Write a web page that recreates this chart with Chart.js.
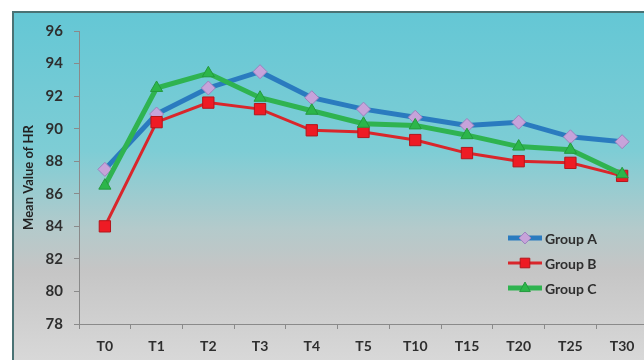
<!DOCTYPE html>
<html>
<head>
<meta charset="utf-8">
<script src="https://cdn.jsdelivr.net/npm/chart.js@4/dist/chart.umd.min.js"></script>
<style>
  html, body { margin: 0; padding: 0; overflow: hidden; background: #ffffff; }
  #wrap { position: relative; width: 660px; height: 360px; }
</style>
</head>
<body>
<div id="wrap"><canvas id="c" width="660" height="360"></canvas></div>
<script>
const categories = ['T0', 'T1', 'T2', 'T3', 'T4', 'T5', 'T10', 'T15', 'T20', 'T25', 'T30'];
const groupA = [87.5, 90.9, 92.5, 93.5, 91.9, 91.2, 90.7, 90.2, 90.4, 89.5, 89.2];
const groupB = [84.0, 90.4, 91.6, 91.2, 89.9, 89.8, 89.3, 88.5, 88.0, 87.9, 87.1];
const groupC = [86.5, 92.5, 93.4, 91.9, 91.1, 90.3, 90.2, 89.6, 88.9, 88.7, 87.2];
const seriesNames = ['Group A', 'Group B', 'Group C'];
const yMin = 78, yMax = 96, yStep = 2;
const yTitle = 'Mean Value of HR';

const FONT = 'Lato, "Open Sans", sans-serif';

const bgPlugin = {
  id: 'bgPlugin',
  beforeDraw(chart) {
    const ctx = chart.ctx;
    const W = chart.width, H = chart.height;
    ctx.save();
    ctx.fillStyle = '#ffffff';
    ctx.fillRect(0, 0, W, H);
    const g = ctx.createLinearGradient(0, 12, 0, H);
    g.addColorStop(0.0, '#64c7d5');
    g.addColorStop(0.40, '#7ecdd5');
    g.addColorStop(0.62, '#b3cacb');
    g.addColorStop(0.74, '#c5c5c5');
    g.addColorStop(1.0, '#d8d8d8');
    ctx.fillStyle = g;
    ctx.fillRect(13, 12, W - 13, H - 12);
    ctx.strokeStyle = '#4a7274';
    ctx.lineWidth = 2;
    ctx.beginPath();
    ctx.moveTo(13, H + 2);
    ctx.lineTo(13, 12);
    ctx.lineTo(W + 2, 12);
    ctx.stroke();
    ctx.restore();
  }
};

function drawMarker(ctx, style, x, y, r) {
  if (style === 'rectRot') {
    ctx.moveTo(x, y - r); ctx.lineTo(x + r, y); ctx.lineTo(x, y + r); ctx.lineTo(x - r, y); ctx.closePath();
  } else if (style === 'rect') {
    const s = r * Math.SQRT1_2;
    ctx.rect(x - s, y - s, 2 * s, 2 * s);
  } else {
    ctx.moveTo(x, y - r); ctx.lineTo(x + r * 0.9, y + r * 0.6); ctx.lineTo(x - r * 0.9, y + r * 0.6); ctx.closePath();
  }
}

const legendPlugin = {
  id: 'insideLegend',
  afterDatasetsDraw(chart) {
    const ctx = chart.ctx;
    ctx.save();
    chart.data.datasets.forEach((ds, i) => {
      const y = 238 + i * 25;
      ctx.strokeStyle = ds.borderColor;
      ctx.lineWidth = ds.borderWidth;
      ctx.beginPath();
      ctx.moveTo(508, y);
      ctx.lineTo(542, y);
      ctx.stroke();
      ctx.fillStyle = ds.pointBackgroundColor;
      ctx.strokeStyle = ds.pointBorderColor;
      ctx.lineWidth = 1;
      ctx.beginPath();
      drawMarker(ctx, ds.pointStyle, 525, y, ds.pointRadius * 0.85);
      ctx.fill();
      ctx.stroke();
      ctx.fillStyle = '#2e2e2e';
      ctx.font = 'bold 14px ' + FONT;
      ctx.textAlign = 'left';
      ctx.textBaseline = 'middle';
      ctx.fillText(ds.label, 545, y + 1);
    });
    ctx.restore();
  }
};

new Chart(document.getElementById('c'), {
  type: 'line',
  data: {
    labels: categories,
    datasets: [
      {
        label: seriesNames[0], data: groupA, order: 3,
        borderColor: '#2a7bbf', borderWidth: 5,
        pointStyle: 'rectRot', pointRadius: 7, pointHoverRadius: 7,
        pointBackgroundColor: '#c7a3da', pointBorderColor: '#9b82bd', pointBorderWidth: 1,
        tension: 0
      },
      {
        label: seriesNames[1], data: groupB, order: 2,
        borderColor: '#d9262b', borderWidth: 3,
        pointStyle: 'rect', pointRadius: 8, pointHoverRadius: 8,
        pointBackgroundColor: '#ee1b24', pointBorderColor: '#b3161c', pointBorderWidth: 1,
        tension: 0
      },
      {
        label: seriesNames[2], data: groupC, order: 1,
        borderColor: '#2fb350', borderWidth: 5,
        pointStyle: 'triangle', pointRadius: 7, pointHoverRadius: 7,
        pointBackgroundColor: '#2cb64a', pointBorderColor: '#249a3e', pointBorderWidth: 1,
        tension: 0
      }
    ]
  },
  options: {
    responsive: false,
    animation: false,
    devicePixelRatio: 1,
    layout: { padding: { left: 13, top: 31, right: 12, bottom: 0 } },
    plugins: { legend: { display: false }, tooltip: { enabled: false } },
    scales: {
      x: {
        offset: true,
        grid: { display: true, drawOnChartArea: false, offset: true, tickLength: 5, color: '#8a8a8a', lineWidth: 1 },
        border: { display: true, color: '#8a8a8a', width: 1 },
        ticks: { color: '#2e2e2e', font: { family: FONT, size: 14, weight: 'bold' }, padding: 9, maxRotation: 0 },
        afterFit(scale) { scale.height = 36; }
      },
      y: {
        min: yMin, max: yMax,
        grid: { display: true, drawOnChartArea: false, tickLength: 5, color: '#8a8a8a' },
        border: { display: true, color: '#8a8a8a', width: 1 },
        ticks: { stepSize: yStep, color: '#2e2e2e', font: { family: FONT, size: 15, weight: 'bold' }, padding: 11 },
        title: { display: true, text: yTitle, color: '#222222', font: { family: FONT, size: 13, weight: 'bold' }, padding: { top: 8, bottom: 0 } },
        afterFit(scale) { scale.width = 66; }
      }
    }
  },
  plugins: [bgPlugin, legendPlugin]
});
</script>
</body>
</html>
